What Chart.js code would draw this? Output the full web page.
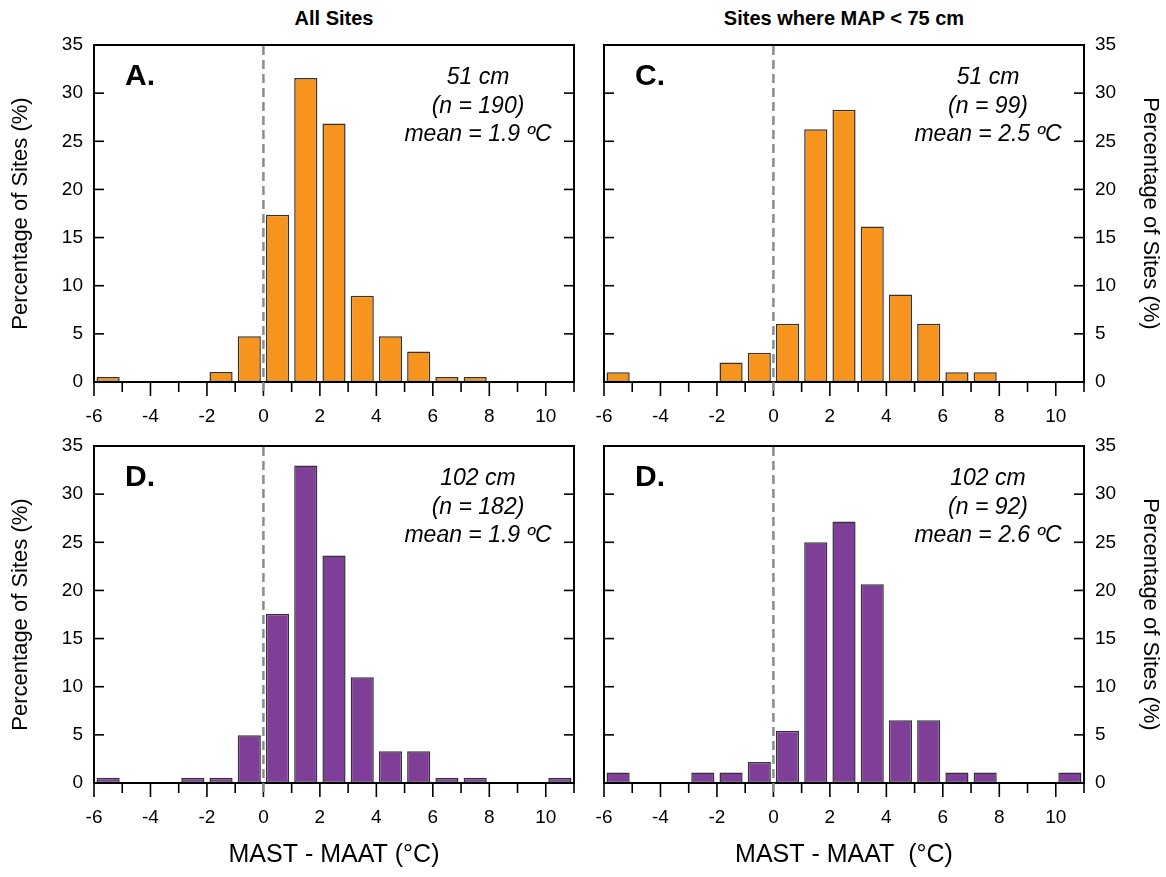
<!DOCTYPE html>
<html>
<head>
<meta charset="utf-8">
<title>MAST - MAAT histograms</title>
<script src="https://cdn.jsdelivr.net/npm/chart.js@4/dist/chart.umd.min.js"></script>
<style>
  body { margin: 0; background: #fff; width: 1166px; height: 877px; position: relative; overflow: hidden;
         font-family: "Liberation Sans", Arial, sans-serif; }
  canvas { position: absolute; }
  .coltitle { position: absolute; top: 6px; font-weight: bold; font-size: 20px; line-height: 24px;
              transform: translateX(-50%); white-space: nowrap; color: #000; }
</style>
</head>
<body>
<div class="coltitle" style="left:334px">All Sites</div>
<div class="coltitle" style="left:844px">Sites where MAP &lt; 75 cm</div>
<canvas id="pA" width="598" height="440" style="left:0;top:0"></canvas>
<canvas id="pC" width="616" height="440" style="left:550px;top:0"></canvas>
<canvas id="pD1" width="598" height="477" style="left:0;top:400px"></canvas>
<canvas id="pD2" width="616" height="477" style="left:550px;top:400px"></canvas>
<script>
// 1-degree bins of MAST - MAAT, from -6 up to 11
const xMin = -6, xMax = 11;
const binStarts = [-6, -5, -4, -3, -2, -1, 0, 1, 2, 3, 4, 5, 6, 7, 8, 9, 10];

// percentage of sites in each bin
const allSites51 = [0.53, 0, 0, 0, 1.05, 4.74, 17.37, 31.58, 26.84, 8.95, 4.74, 3.16, 0.53, 0.53, 0, 0, 0];
const dryMap51 = [1.01, 0, 0, 0, 2.02, 3.03, 6.06, 26.26, 28.28, 16.16, 9.09, 6.06, 1.01, 1.01, 0, 0, 0];
const allSites102 = [0.55, 0, 0, 0.55, 0.55, 4.95, 17.58, 32.97, 23.63, 10.99, 3.30, 3.30, 0.55, 0.55, 0, 0, 0.55];
const dryMap102 = [1.09, 0, 0, 1.09, 1.09, 2.17, 5.43, 25.00, 27.17, 20.65, 6.52, 6.52, 1.09, 1.09, 0, 0, 1.09];

const panelLetters = ['A.', 'C.', 'D.', 'D.'];
const depthLabels = ['51 cm', '51 cm', '102 cm', '102 cm'];
const countLabels = ['(n = 190)', '(n = 99)', '(n = 182)', '(n = 92)'];
const meanLabels = ['mean = 1.9 ºC', 'mean = 2.5 ºC', 'mean = 1.9 ºC', 'mean = 2.6 ºC'];
const xTitles = ['MAST - MAAT (°C)', 'MAST - MAAT  (°C)'];
const yTitle = 'Percentage of Sites (%)';

const ORANGE = '#F7941E';
const PURPLE = '#7F3F98';
const FONT = '"Liberation Sans", Arial, sans-serif';

// frame, hand-drawn tick marks, zero line and the in-panel text
const framePlugin = {
  id: 'frame',
  afterDraw(chart, args, opts) {
    const { ctx, chartArea: a, scales: { x, y } } = chart;
    const line = (x1, y1, x2, y2) => { ctx.beginPath(); ctx.moveTo(x1, y1); ctx.lineTo(x2, y2); ctx.stroke(); };
    ctx.save();
    ctx.strokeStyle = '#000';
    ctx.lineWidth = 2;
    ctx.strokeRect(a.left, a.top, a.right - a.left, a.bottom - a.top);

    ctx.lineWidth = 1.6;
    for (let v = 5; v < 35; v += 5) {
      const py = y.getPixelForValue(v);
      line(a.left, py, a.left + 10, py);
      line(a.right - 10, py, a.right, py);
    }
    for (let v = xMin; v <= xMax; v++) {
      const px = x.getPixelForValue(v);
      line(px, a.bottom, px, a.bottom + (v % 2 === 0 ? 14 : 10));
    }

    // dashed line at zero
    const px0 = x.getPixelForValue(0);
    ctx.setLineDash([9, 5]);
    ctx.strokeStyle = '#8c8c8c';
    ctx.lineWidth = 2.5;
    line(px0, a.top + 1, px0, a.bottom + 14);
    ctx.setLineDash([]);

    ctx.fillStyle = '#000';
    ctx.textBaseline = 'middle';
    ctx.textAlign = 'left';
    ctx.font = 'bold 30px ' + FONT;
    ctx.fillText(opts.letter, a.left + 31, a.top + 32);

    ctx.textAlign = 'center';
    ctx.font = 'italic 23px ' + FONT;
    const cx = a.right - 96;
    ctx.fillText(opts.depth, cx, a.top + 33);
    ctx.fillText(opts.count, cx, a.top + 62);
    ctx.fillText(opts.mean, cx, a.top + 90);
    ctx.restore();
  }
};

function makePanel(id, i, values, color, side, row) {
  const left = side === 'left';
  const top = row === 'top';
  new Chart(document.getElementById(id), {
    type: 'bar',
    data: {
      datasets: [{
        data: binStarts.map((b, k) => ({ x: b + 0.5, y: values[k] })),
        backgroundColor: color,
        borderColor: '#333',
        borderWidth: 1.5,
        borderSkipped: false,
        barPercentage: 0.82,
        categoryPercentage: 1
      }]
    },
    options: {
      responsive: false,
      animation: false,
      layout: {
        padding: { left: left ? 0 : 54, right: left ? 24 : 0, top: top ? 45 : 46, bottom: 0 }
      },
      plugins: {
        legend: { display: false },
        tooltip: { enabled: false },
        frame: { letter: panelLetters[i], depth: depthLabels[i], count: countLabels[i], mean: meanLabels[i] }
      },
      scales: {
        x: {
          type: 'linear',
          min: xMin,
          max: xMax,
          offset: false,
          grid: { display: false, offset: false, drawTicks: false },
          border: { display: false },
          ticks: {
            stepSize: 1,
            autoSkip: false,
            maxRotation: 0,
            padding: 23,
            color: '#000',
            font: { family: FONT, size: 19 },
            callback: v => (v % 2 === 0 && v <= 10 ? String(v) : '')
          },
          title: {
            display: !top,
            text: xTitles[left ? 0 : 1],
            color: '#000',
            font: { family: FONT, size: 25 },
            padding: { top: 0, bottom: 7 }
          },
          afterFit: s => { s.height = top ? 58 : 94; }
        },
        y: {
          position: left ? 'left' : 'right',
          min: 0,
          max: 35,
          grid: { display: false, drawTicks: false },
          border: { display: false },
          ticks: {
            stepSize: 5,
            padding: 11,
            color: '#000',
            font: { family: FONT, size: 19 }
          },
          title: {
            display: true,
            text: yTitle,
            color: '#000',
            font: { family: FONT, size: 22 },
            padding: { top: left ? 8 : 3, bottom: 0 }
          },
          afterFit: s => { s.width = left ? 94 : 82; }
        }
      }
    },
    plugins: [framePlugin]
  });
}

makePanel('pA', 0, allSites51, ORANGE, 'left', 'top');
makePanel('pC', 1, dryMap51, ORANGE, 'right', 'top');
makePanel('pD1', 2, allSites102, PURPLE, 'left', 'bottom');
makePanel('pD2', 3, dryMap102, PURPLE, 'right', 'bottom');
</script>
</body>
</html>
